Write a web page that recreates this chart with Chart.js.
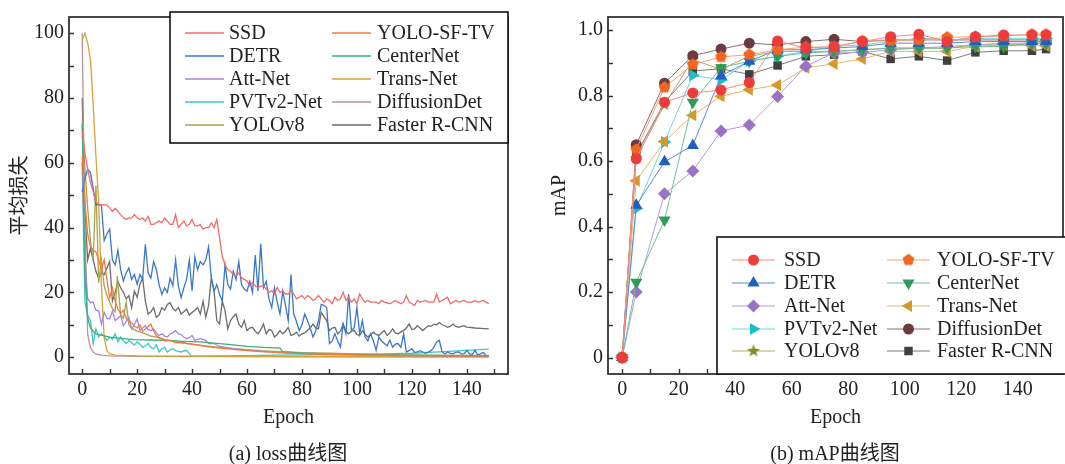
<!DOCTYPE html>
<html>
<head>
<meta charset="utf-8">
<script src="https://cdn.jsdelivr.net/npm/chart.js@4.4.1/dist/chart.umd.min.js"></script>
<style>
  html, body { margin: 0; padding: 0; background: #fff; overflow: hidden; width: 1065px; height: 464px; }
  #lossChart { position: absolute; left: 0; top: 0; }
  #mapChart { position: absolute; left: 535px; top: 0; }
  .cap { position: absolute; top: 440px; line-height: 26px; font-size: 20px; color: #222;
         font-family: 'Liberation Serif', 'Times New Roman', 'Noto Sans CJK SC', serif;
         transform: translateX(-50%); white-space: nowrap; }
</style>
</head>
<body>
<canvas id="lossChart" width="540" height="464"></canvas>
<canvas id="mapChart" width="535" height="464"></canvas>
<div class="cap" style="left:288px">(a) loss曲线图</div>
<div class="cap" style="left:835px">(b) mAP曲线图</div>
<script>
// ---- data ----
const names = ['SSD', 'YOLO-SF-TV', 'DETR', 'CenterNet', 'Att-Net', 'Trans-Net', 'PVTv2-Net', 'DiffusionDet', 'YOLOv8', 'Faster R-CNN'];

// loss curves, [epoch, loss]
const lossSSD = [[0,70],[1,63],[2,58],[3,54],[4,51],[5,48],[6,47],[8,47],[9,47],[10,46],[11,45],[12,46],[13,45],[14,44],[15,43],[16,42.5],[17,43],[18,43],[19,44],[20,43],[21,42.5],[22,43],[23,42],[24,43.5],[25,41],[26,41],[27,41.5],[28,42],[29,41.5],[30,43],[31,42],[32,41],[33,41],[34,44],[35,40],[36,41],[37,42],[38,40.5],[39,41],[40,42.5],[41,40.5],[42,40.5],[43,41],[44,39.5],[45,40],[46,40],[47,41.5],[48,40],[49,42.5],[50,37],[51,31],[52,28.5],[53,27],[54,26.5],[55,25.5],[56,25],[57,26],[58,24.5],[59,24],[60,23.5],[61,22],[62,23],[63,22],[64,21.5],[65,22],[66,22],[67,21],[68,20],[69,20.5],[70,19.5],[71,21.5],[72,20],[73,20.5],[74,19.5],[75,19.5],[76,20.5],[77,19.5],[78,18],[79,18.5],[80,19],[81,18],[82,19],[83,18.5],[84,17.5],[85,18],[86,19],[87,18],[88,17],[89,18],[90,17.5],[91,16.5],[92,18.5],[93,17.5],[94,18],[95,20],[96,17.5],[97,18.5],[98,17],[99,18],[100,16.5],[101,19.5],[102,18],[103,17],[104,17.5],[105,17],[107,17],[108,16.5],[109,17.5],[110,17],[112,16.5],[114,17.5],[115,17],[116,16.5],[117,17],[118,19],[119,17],[120,16.5],[121,16],[122,17.5],[123,17],[125,17.5],[126,17],[128,17],[129,19.5],[130,17],[131,17.5],[133,18.5],[134,16.5],[135,17],[136,17.5],[137,17],[139,17.5],[140,17],[142,17],[143,17.5],[144,17],[146,17.5],[147,17],[148,16.5]];
const lossYOLOSFTV = [[0,62],[1,48],[2,38],[3,34],[4,33],[5,32.5],[6,30],[7,27],[8,30],[9,24],[10,18.3],[11,21.4],[12,17.3],[13,14.8],[14,13.5],[15,14.5],[16,12],[17,11],[18,10.7],[19,9.5],[20,9],[21,10],[22,8],[23,8.7],[24,9.5],[25,10.2],[26,8],[27,6.7],[28,6],[29,5.5],[30,5],[32,5.2],[34,4.5],[36,4.6],[38,4.2],[40,4],[43,3.6],[46,3.2],[50,2.8],[55,2.4],[60,2],[65,1.7],[70,1.5],[75,1.3],[80,1.1],[90,0.9],[100,0.7],[110,0.6],[120,0.5],[130,0.4],[140,0.35],[148,0.3]];
const lossDETR = [[0,51],[1,55],[2,58],[3,57],[4,52],[5,47],[6,47],[7,47],[8,36],[9,38],[10,39.5],[11,30],[12,28.5],[13,33],[14,27],[15,23.5],[16,26],[17,27.5],[18,24],[19,25.5],[20,22.5],[21,25.5],[22,24],[23,34.8],[24,26],[25,24.4],[26,29.5],[27,27],[28,22.4],[29,19.4],[30,21.4],[31,20],[32,24.4],[33,22],[34,30],[35,22],[36,18.4],[37,21.4],[38,24],[39,30],[40,20.4],[41,31],[42,27],[43,29.5],[44,28.5],[45,30],[46,34],[47,24.4],[48,20.4],[49,22.4],[50,19.4],[51,17.3],[52,28.5],[53,22.4],[54,21],[55,26.5],[56,24],[57,29.5],[58,22.4],[59,21],[60,20.4],[61,23.4],[62,20],[63,31.5],[64,20.4],[65,35],[66,21.4],[67,23.4],[68,18],[69,15.3],[70,21.4],[71,17],[72,13.3],[73,20.4],[74,16],[75,11.3],[76,25.5],[77,13.3],[78,11],[79,8.2],[80,10],[81,13.3],[82,11.3],[83,9],[84,6.2],[85,8],[86,11.3],[87,16.3],[88,16],[89,15.3],[90,4.2],[91,5],[92,7.2],[93,5],[94,3.1],[95,10.2],[96,7.2],[97,19.4],[98,8.2],[99,9],[100,15.3],[101,7.2],[102,11.3],[103,6.2],[104,5],[105,7.2],[106,5],[107,2.1],[108,6.2],[109,5],[110,4.2],[111,3.5],[112,5.2],[113,3.1],[114,4],[115,4.2],[116,3],[117,7.2],[118,1.6],[119,2],[120,2.6],[121,1.5],[122,1.6],[123,2],[124,1.6],[125,1.2],[126,1.6],[127,2],[128,3],[129,4.7],[130,5.2],[131,1.6],[132,1],[133,1.6],[134,1.2],[135,1],[136,1.5],[137,1.6],[138,1],[139,1],[140,2.1],[141,1],[142,0.8],[143,2.1],[144,0.6],[145,1],[146,1.5],[147,0.5],[148,0.5]];
const lossCenterNet = [[0,72],[1,25],[2,12],[3,9],[4,8],[5,7.2],[7,6.8],[10,6.2],[14,5.8],[19,5.4],[25,5.3],[31,5.2],[37,4.9],[43,4.7],[50,4.2],[55,3.8],[60,3.3],[66,3],[72,2.8],[73,1.6],[79,1.3],[91,0.9],[100,0.8],[116,0.6],[130,0.5],[148,0.4]];
const lossAttNet = [[0,60],[1,30],[2,18],[3,16.8],[4,17],[5,14.5],[6,14.3],[7,10.2],[8,13.8],[9,12],[10,11.8],[11,14.3],[12,11.3],[13,12],[14,12.8],[15,9.7],[16,11],[17,12.3],[18,8.7],[19,10],[20,11.8],[21,8.2],[22,9],[23,9.7],[24,8.5],[25,8.2],[26,8.7],[27,7.5],[28,6.7],[29,7.2],[30,6.5],[31,6.2],[32,7.2],[33,7.5],[34,8.2],[35,7.2],[36,7],[37,6.2],[38,5.7],[39,6],[40,6.7],[41,5.2],[42,5.5],[43,5.7],[44,5.5],[45,5.2],[46,4.2],[48,4.2],[50,3.3],[55,2.6],[61,2.1],[67,1.7],[73,1.3],[80,1.1],[91,0.8],[100,0.7],[116,0.5],[130,0.4],[148,0.3]];
const lossTransNet = [[0,98],[1,100],[2,97],[3,92],[4,78],[5,62],[6,48],[7,22],[8,6],[9,2],[10,1],[12,0.6],[20,0.4],[40,0.3],[80,0.2],[148,0.1]];
const lossPVTv2 = [[0,60],[1,17],[2,13],[3,11.3],[4,4.2],[5,8.7],[6,6.2],[7,7.2],[8,6.5],[9,5.2],[10,6.2],[11,5.5],[12,7.2],[13,4.7],[14,6.2],[15,5],[16,4.2],[17,5.2],[18,4.5],[19,3.7],[20,4.7],[21,4],[22,3.1],[23,3.5],[24,4.2],[25,3],[26,2.6],[27,3.7],[28,1.6],[29,2.5],[30,3.1],[31,1.6],[32,2.2],[33,2.6],[34,2.1],[35,1.8],[36,1.6],[37,1.9],[38,2.1],[39,1],[40,0.3],[45,0.3],[50,0.4],[60,0.5],[70,0.6],[80,0.7],[90,0.8],[100,0.9],[110,1],[120,1.2],[130,1.6],[140,2.1],[148,2.5]];
const lossDiffusionDet = [[0,100],[1,40],[2,7],[3,3],[4,1.6],[5,1],[7,0.6],[10,0.4],[20,0.25],[50,0.15],[100,0.1],[148,0.1]];
const lossYOLOv8 = [[0,73],[1,58],[2,46],[3,36],[4,30],[5,53],[6,23],[7,30],[8,22],[9,19],[10,17],[11,15],[12,14],[12.8,25],[14,13],[15,12],[16,17],[17,10],[18,9],[19,8.5],[20,8],[22,7.5],[25,6.5],[28,6],[30,5.5],[35,4.6],[40,4],[45,3.5],[50,3],[55,2.6],[60,2.3],[65,2],[70,1.8],[75,1.6],[80,1.4],[90,1.2],[100,1],[110,0.8],[120,0.7],[130,0.6],[148,0.5]];
const lossFasterRCNN = [[0,80],[1,45],[2,30],[3,33.6],[4,30],[5,26.5],[6,24.4],[7,26],[8,25.5],[9,27.5],[10,29.5],[11,17.3],[12,20],[13,23.4],[14,21.4],[15,20],[16,18],[17,19],[18,15.3],[19,20.4],[20,18.5],[21,22.4],[22,24.4],[23,17.3],[24,13.3],[25,14],[26,15.3],[27,12.3],[28,13],[29,15.3],[30,14.5],[31,16.3],[32,16.8],[33,15],[34,14.3],[35,15.3],[36,13.3],[37,14],[38,14.8],[39,13],[40,13.8],[41,14.5],[42,15.3],[43,13.3],[44,17.3],[45,12.3],[46,16],[47,24.4],[48,20.4],[49,11.3],[50,10.2],[51,17.3],[52,14.3],[53,8.7],[54,11.3],[55,12.5],[56,13.3],[57,10.2],[58,9.2],[59,11.3],[60,8.2],[61,9],[62,9.2],[63,8],[64,7.2],[65,8.5],[66,10.2],[67,7.2],[68,8.5],[69,8.2],[70,6.2],[71,7],[72,8.2],[73,7.2],[74,8],[75,9.2],[76,6.7],[77,7],[78,7.7],[79,6.5],[80,7.2],[81,7.5],[82,8.2],[83,9],[84,10.2],[85,9],[86,8.7],[87,13.8],[88,12.5],[89,11.3],[90,8.2],[91,9],[92,9.2],[93,7.2],[94,8],[95,10.2],[96,8],[97,7.2],[98,8],[99,8.2],[100,7],[101,6.7],[102,8.2],[103,7],[104,6.2],[105,7],[106,7.7],[107,7],[108,6.7],[109,7.5],[110,8.2],[111,6.7],[112,7.5],[113,8.7],[114,7.5],[115,7.2],[116,7.8],[117,8.2],[118,9],[119,10.2],[120,8.5],[121,8.7],[122,9.7],[123,9],[124,8.2],[125,9],[126,9.7],[127,9.5],[128,10.2],[129,10],[130,10.7],[131,10],[132,9.7],[133,9.2],[134,9.5],[135,10.2],[136,9.5],[137,9.2],[138,9.5],[139,9.7],[140,9.3],[141,9.2],[143,9],[145,8.9],[148,8.7]];

// mAP curves
const mapEpochs = [0, 5, 15, 25, 35, 45, 55, 65, 75, 85, 95, 105, 115, 125, 135, 145, 150];
const mapSSD = [0, 0.607, 0.78, 0.808, 0.817, 0.84, 0.967, 0.945, 0.95, 0.965, 0.98, 0.987, 0.965, 0.98, 0.985, 0.985, 0.985];
const mapYOLOSFTV = [0, 0.635, 0.825, 0.895, 0.918, 0.925, 0.94, 0.948, 0.948, 0.967, 0.967, 0.97, 0.978, 0.98, 0.982, 0.987, 0.987];
const mapDETR = [0, 0.465, 0.598, 0.648, 0.86, 0.905, 0.94, 0.94, 0.945, 0.95, 0.96, 0.96, 0.96, 0.965, 0.965, 0.965, 0.965];
const mapCenterNet = [0, 0.23, 0.42, 0.78, 0.885, 0.905, 0.92, 0.93, 0.935, 0.94, 0.945, 0.945, 0.945, 0.95, 0.95, 0.96, 0.96];
const mapAttNet = [0, 0.2, 0.5, 0.57, 0.692, 0.71, 0.797, 0.89, 0.93, 0.932, 0.94, 0.945, 0.95, 0.955, 0.96, 0.96, 0.96];
const mapTransNet = [0, 0.54, 0.66, 0.74, 0.798, 0.818, 0.832, 0.885, 0.897, 0.912, 0.935, 0.935, 0.935, 0.95, 0.955, 0.952, 0.952];
const mapPVTv2 = [0, 0.455, 0.658, 0.862, 0.848, 0.905, 0.92, 0.935, 0.95, 0.955, 0.965, 0.975, 0.97, 0.975, 0.975, 0.975, 0.975];
const mapDiffusionDet = [0, 0.65, 0.838, 0.922, 0.942, 0.96, 0.955, 0.965, 0.972, 0.965, 0.97, 0.97, 0.97, 0.97, 0.97, 0.97, 0.97];
const mapYOLOv8 = [0, 0.61, 0.772, 0.91, 0.88, 0.92, 0.935, 0.935, 0.935, 0.94, 0.945, 0.945, 0.945, 0.955, 0.955, 0.958, 0.958];
const mapFasterRCNN = [0, 0.62, 0.78, 0.875, 0.882, 0.865, 0.892, 0.92, 0.925, 0.935, 0.912, 0.92, 0.907, 0.932, 0.937, 0.937, 0.942];

// tick labels
const epochTicks = [0, 20, 40, 60, 80, 100, 120, 140];
const lossTicks = [0, 20, 40, 60, 80, 100];
const mapTicks = [0, 0.2, 0.4, 0.6, 0.8, 1.0];

// ---- styles ----
const FONT = "'Liberation Serif', 'Times New Roman', 'Noto Sans CJK SC', serif";
const INK = '#222';
const lossColors = ['#f26a6a', '#f47b3c', '#3a78c8', '#3dae7c', '#a585d8', '#d9a332', '#3cc6c8', '#b89296', '#a8a24c', '#6c6c6c'];
const markColors = ['#ee3b3b', '#f26522', '#1f5fbf', '#2e9b5a', '#9b72c8', '#d39a2b', '#1fbfc8', '#6b3b40', '#8a8a2a', '#404040'];
const mapLineColors = ['#f28a8a', '#f7a070', '#5b8ad6', '#6fc090', '#b89ad8', '#e0b870', '#70d6da', '#946a6e', '#b0ac60', '#7a7a7a'];

// polygon / star markers Chart.js does not ship
function polyMarker(n, r, color, star) {
  const c = document.createElement('canvas');
  const s = Math.ceil(r * 2 + 2);
  c.width = s; c.height = s;
  const g = c.getContext('2d');
  g.fillStyle = color;
  g.beginPath();
  const k = star ? n * 2 : n;
  for (let i = 0; i < k; i++) {
    const a = -Math.PI / 2 + i * Math.PI * 2 / k;
    const rr = star && i % 2 ? r * 0.42 : r;
    g.lineTo(s / 2 + rr * Math.cos(a), s / 2 + rr * Math.sin(a));
  }
  g.closePath();
  g.fill();
  return c;
}
const pentagon = polyMarker(5, 6.2, markColors[1], false);
const star = polyMarker(5, 6.8, markColors[8], true);
const pointStyles = ['circle', pentagon, 'triangle', 'triangle', 'rectRot', 'triangle', 'triangle', 'circle', star, 'rect'];
const pointRot = [0, 0, 0, 180, 0, 270, 90, 0, 0, 0];
const pointSize = [5.5, 6, 7, 7, 6.5, 7, 7, 5.5, 6, 6];

// frame with inward ticks
const frameTicks = {
  id: 'frameTicks',
  afterDatasetsDraw(chart) {
    const { ctx, chartArea: a, scales: { x, y } } = chart;
    ctx.save();
    ctx.strokeStyle = '#333';
    ctx.lineWidth = 1.4;
    ctx.beginPath();
    x.ticks.forEach(t => {
      const px = Math.round(x.getPixelForValue(t.value)) + 0.5;
      ctx.moveTo(px, a.bottom); ctx.lineTo(px, a.bottom - 5);
    });
    y.ticks.forEach(t => {
      const py = Math.round(y.getPixelForValue(t.value)) + 0.5;
      ctx.moveTo(a.left, py); ctx.lineTo(a.left + 5, py);
    });
    ctx.stroke();
    ctx.lineWidth = 1.8;
    ctx.strokeRect(a.left, a.top, a.right - a.left, a.bottom - a.top);
    ctx.restore();
  }
};

// boxed two-column legend inside the plot
const boxLegend = {
  id: 'boxLegend',
  afterDraw(chart, args, o) {
    const { ctx } = chart;
    ctx.save();
    ctx.fillStyle = '#fff';
    ctx.fillRect(o.box[0], o.box[1], o.box[2] - o.box[0], o.box[3] - o.box[1]);
    ctx.strokeStyle = '#111';
    ctx.lineWidth = 1.6;
    ctx.strokeRect(o.box[0], o.box[1], o.box[2] - o.box[0], o.box[3] - o.box[1]);
    ctx.font = '20px ' + FONT;
    ctx.textBaseline = 'middle';
    chart.data.datasets.forEach((ds, i) => {
      const y = o.rows[Math.floor(i / 2)];
      const col = o.cols[i % 2];
      ctx.strokeStyle = ds.borderColor;
      ctx.lineWidth = ds.borderWidth;
      ctx.beginPath();
      ctx.moveTo(col[0], y); ctx.lineTo(col[1], y);
      ctx.stroke();
      if (ds.pointRadius > 0) {
        ctx.fillStyle = ds.pointBackgroundColor;
        ctx.strokeStyle = ds.pointBackgroundColor;
        Chart.helpers.drawPoint(ctx, { pointStyle: ds.pointStyle, rotation: ds.pointRotation, radius: ds.pointRadius, borderWidth: 0 }, (col[0] + col[1]) / 2, y);
      }
      ctx.fillStyle = INK;
      ctx.fillText(ds.label, col[2], y + 1);
    });
    ctx.restore();
  }
};

function axisFont() { return { family: FONT, size: 20 }; }

function baseOptions(cfg) {
  return {
    responsive: false,
    animation: false,
    devicePixelRatio: 1,
    layout: { padding: { top: 12, right: cfg.padRight, bottom: 34, left: 0 } },
    plugins: {
      legend: { display: false },
      tooltip: { enabled: false },
      boxLegend: cfg.legend
    },
    scales: {
      x: {
        type: 'linear', min: cfg.xMin, max: cfg.xMax,
        grid: { display: false, drawTicks: false }, border: { display: false },
        ticks: { stepSize: 10, includeBounds: false, autoSkip: false, maxRotation: 0, padding: 4, color: INK, font: axisFont(),
                 callback: v => epochTicks.includes(v) ? String(v) : '' },
        title: { display: true, text: 'Epoch', color: INK, font: axisFont(), padding: 0 },
        afterFit: s => { s.height = 56; }
      },
      y: {
        min: cfg.yMin, max: cfg.yMax,
        grid: { display: false, drawTicks: false }, border: { display: false },
        ticks: { stepSize: cfg.yStep, includeBounds: false, autoSkip: false, padding: 5, color: INK, font: axisFont(), callback: cfg.yLabel },
        title: { display: true, text: cfg.yTitle, color: INK, font: axisFont(), padding: { top: cfg.yTitlePad, bottom: 0 } },
        afterFit: s => { s.width = cfg.yWidth; }
      }
    }
  };
}

const lossSeries = [lossSSD, lossYOLOSFTV, lossDETR, lossCenterNet, lossAttNet, lossTransNet, lossPVTv2, lossDiffusionDet, lossYOLOv8, lossFasterRCNN];
const mapSeries = [mapSSD, mapYOLOSFTV, mapDETR, mapCenterNet, mapAttNet, mapTransNet, mapPVTv2, mapDiffusionDet, mapYOLOv8, mapFasterRCNN];

new Chart(document.getElementById('lossChart'), {
  type: 'line',
  data: {
    datasets: lossSeries.map((s, i) => ({
      label: names[i],
      data: s.map(p => ({ x: p[0], y: p[1] })),
      borderColor: lossColors[i],
      borderWidth: 1.3,
      pointRadius: 0,
      tension: 0
    }))
  },
  options: baseOptions({
    padRight: 32, xMin: -4.8, xMax: 155, yMin: -5.2, yMax: 105, yStep: 10,
    yLabel: v => lossTicks.includes(v) ? String(v) : '',
    yTitle: '平均损失', yTitlePad: 9, yWidth: 69,
    legend: { box: [170, 12, 508, 143], rows: [33, 56, 79, 102, 125], cols: [[185, 224, 229], [332, 371, 377]] }
  }),
  plugins: [frameTicks, boxLegend]
});

new Chart(document.getElementById('mapChart'), {
  type: 'line',
  data: {
    datasets: mapSeries.map((s, i) => ({
      label: names[i],
      data: s.map((v, j) => ({ x: mapEpochs[j], y: v })),
      borderColor: mapLineColors[i],
      borderWidth: 1,
      pointStyle: pointStyles[i],
      pointRotation: pointRot[i],
      pointRadius: pointSize[i],
      pointBackgroundColor: markColors[i],
      pointBorderColor: markColors[i],
      pointBorderWidth: 0,
      tension: 0
    }))
  },
  options: baseOptions({
    padRight: 2, xMin: -5, xMax: 156, yMin: -0.05, yMax: 1.04, yStep: 0.1,
    yLabel: v => mapTicks.some(t => Math.abs(t - v) < 1e-6) ? (v === 0 ? '0' : v.toFixed(1)) : '',
    yTitle: 'mAP', yTitlePad: 13, yWidth: 73,
    legend: { box: [182, 237, 540, 374], rows: [260, 283, 306, 329, 351], cols: [[197, 240, 249], [352, 395, 402]] }
  }),
  plugins: [frameTicks, boxLegend]
});
</script>
</body>
</html>
